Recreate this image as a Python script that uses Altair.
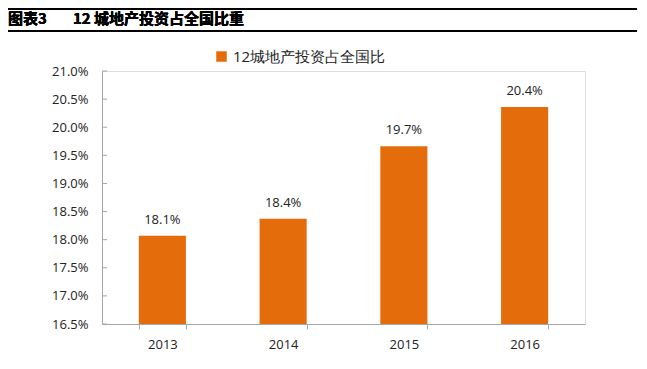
import altair as alt
import pandas as pd

years = ["2013", "2014", "2015", "2016"]
shares = [18.07, 18.37, 19.66, 20.36]
labels = ["18.1%", "18.4%", "19.7%", "20.4%"]
y_ticks = [16.5, 17.0, 17.5, 18.0, 18.5, 19.0, 19.5, 20.0, 20.5, 21.0]
y_base = 16.5
series_name = "12城地产投资占全国比"
title_a = "图表3"
title_b = "12 城地产投资占全国比重"

df = pd.DataFrame({"year": years, "share": shares, "label": labels, "series": series_name})
ticks_df = pd.DataFrame({"t": y_ticks})

FONT = "Open Sans"
ORANGE = "#E46C0A"
AXIS = "#A6A6A6"

yscale = alt.Scale(domain=[16.5, 21.0], nice=False, zero=False)
xscale = alt.Scale(domain=years, paddingInner=0.61, paddingOuter=0.305)
xaxis = alt.Axis(title=None, labelAngle=0, labelFont=FONT, labelFontSize=13,
                 labelColor="#222222", labelPadding=9, domainColor=AXIS,
                 tickColor=AXIS, tickBand="extent", tickSize=5)
yaxis = alt.Axis(title=None, values=y_ticks, labelExpr="format(datum.value, '.1f') + '%'",
                 labelFont=FONT, labelFontSize=13, labelColor="#222222", labelOverlap=False,
                 grid=False, ticks=False, labelPadding=14, domainColor=AXIS)

bars = alt.Chart(df).mark_bar(color=ORANGE).encode(
    x=alt.X("year:N", sort=years, scale=xscale, axis=xaxis),
    y=alt.Y("share:Q", scale=yscale, axis=yaxis),
    y2=alt.datum(y_base),
    color=alt.Color("series:N", scale=alt.Scale(range=[ORANGE]),
                    legend=alt.Legend(title=None, orient="none", legendX=112, legendY=-22,
                                      symbolType="square", symbolSize=110, symbolStrokeWidth=0,
                                      labelFont=FONT, labelFontSize=15, labelColor="#222222",
                                      labelOffset=4)),
)

text = alt.Chart(df).mark_text(baseline="bottom", dy=-9, font=FONT, fontSize=13, color="#222222").encode(
    x=alt.X("year:N", sort=years, scale=xscale, axis=xaxis),
    y=alt.Y("share:Q", scale=yscale, axis=yaxis),
    text="label:N",
)

yt = alt.Chart(ticks_df).mark_rule(color=AXIS).encode(
    y=alt.Y("t:Q", scale=yscale, axis=yaxis, title=None),
    x=alt.value(0),
    x2=alt.value(5),
)

top_line = alt.Chart(df).mark_rule(color="#000000", strokeWidth=2).encode(
    x=alt.value(-94), x2=alt.value(535), y=alt.value(-62))
mid_line = alt.Chart(df).mark_rule(color="#000000", strokeWidth=2).encode(
    x=alt.value(-94), x2=alt.value(535), y=alt.value(-40))
bot_line = alt.Chart(df).mark_rule(color="#000000", strokeWidth=2).encode(
    x=alt.value(-94), x2=alt.value(535), y=alt.value(292))

t1 = alt.Chart(df).mark_text(align="left", baseline="middle", font="Noto Sans CJK SC",
                             fontWeight="bold", fontSize=15, color="#000000").encode(
    x=alt.value(-94), y=alt.value(-52), text=alt.value(title_a))
t2 = alt.Chart(df).mark_text(align="left", baseline="middle", font="Noto Sans CJK SC",
                             fontWeight="bold", fontSize=15, color="#000000").encode(
    x=alt.value(-29), y=alt.value(-52), text=alt.value(title_b))

chart = alt.layer(bars, text, yt, top_line, mid_line, bot_line, t1, t2).properties(
    width=483, height=253,
    autosize=alt.AutoSizeParams(type="none"),
    padding={"left": 94, "top": 63, "right": 54, "bottom": 37},
).configure_view(stroke=None).configure(background="white")

chart.save("out.html", embed_options={"renderer": "svg", "actions": False})
